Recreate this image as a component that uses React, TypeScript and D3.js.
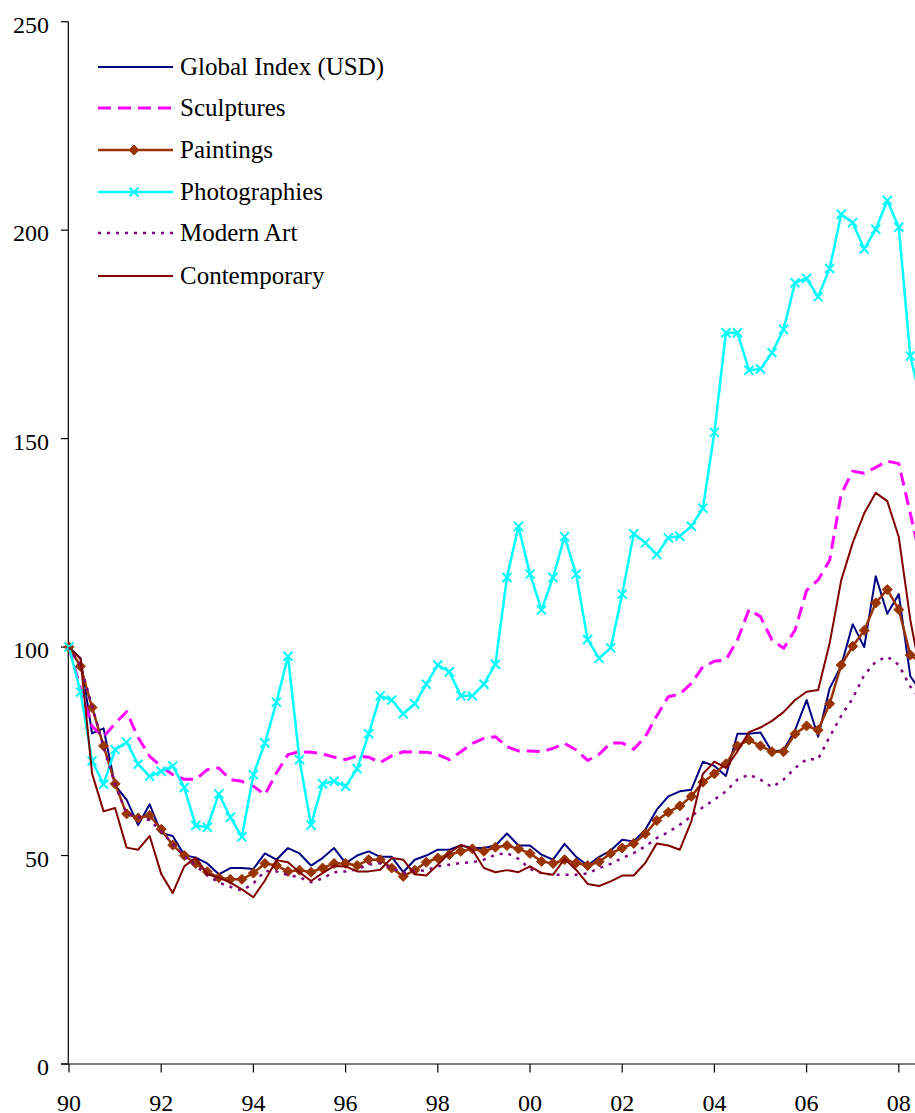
import React from "react";
import * as d3 from "d3";

// Quarterly index values, 1990Q1 = 100 (index 0), last values clipped at the right edge
const globalIndex = [100, 97.3, 79.3, 80.5, 66.8, 63.4, 57.3, 62.3, 55.4, 54.7, 50.1, 49.5, 48.1, 45.5, 47.0, 47.0, 46.8, 50.5, 49.0, 51.8, 50.5, 47.6, 49.4, 51.8, 48.2, 50.0, 51.0, 49.7, 49.7, 46.0, 49.0, 50.0, 51.4, 51.4, 52.4, 51.8, 51.8, 52.4, 55.3, 52.4, 52.4, 50.2, 49.0, 52.8, 49.7, 47.6, 49.7, 51.2, 53.8, 53.4, 56.2, 61.0, 64.2, 65.4, 65.8, 72.5, 71.5, 69.1, 79.2, 79.2, 79.5, 74.9, 75.3, 80.1, 87.3, 78.5, 90.1, 95.5, 105.5, 100.0, 117.0, 108.0, 112.7, 93.0, 89.0];
const sculptures = [100, 90, 81, 78.5, 81.7, 84.5, 78.3, 73.8, 71.4, 69.4, 68.3, 68.3, 70.6, 71.0, 68.2, 67.8, 66.6, 64.6, 69.8, 74.2, 74.9, 74.8, 74.4, 73.6, 73.0, 73.9, 73.6, 72.3, 73.9, 74.9, 74.8, 74.8, 74.2, 73.0, 74.9, 76.9, 78.1, 78.5, 76.1, 75.1, 75.1, 74.9, 75.7, 76.9, 75.3, 72.8, 74.3, 77.0, 77.0, 75.5, 78.5, 83.5, 88.1, 88.7, 91.3, 95.3, 96.6, 96.9, 101.7, 109.0, 107.3, 101.7, 99.7, 104.1, 113.6, 116.1, 120.8, 136.7, 142.2, 141.7, 143.1, 144.6, 144.0, 132.0, 120];
const paintings = [100, 95.4, 85.5, 76.3, 67.2, 60.0, 59.0, 59.6, 56.3, 52.5, 50.0, 48.1, 46.1, 44.7, 44.3, 44.3, 45.8, 48.1, 47.6, 46.2, 46.5, 46.0, 47.0, 48.1, 48.1, 47.6, 49.0, 49.0, 47.0, 45.0, 46.5, 48.4, 49.4, 50.2, 51.0, 51.6, 51.0, 52.0, 52.4, 51.6, 50.5, 48.6, 48.1, 49.0, 48.2, 47.6, 48.5, 50.5, 51.8, 52.9, 55.2, 58.4, 60.4, 61.9, 64.2, 67.6, 69.6, 72.0, 76.3, 77.7, 76.3, 74.9, 74.9, 79.2, 81.1, 80.1, 86.4, 95.7, 100.2, 104.0, 110.6, 113.8, 109.0, 98.1, 96];
const photographies = [100, 89.2, 72.7, 67.1, 75.4, 77.2, 71.9, 69.0, 70.2, 71.5, 66.3, 57.2, 56.8, 64.8, 59.2, 54.5, 69.4, 77.0, 86.8, 97.8, 73.0, 57.3, 67.2, 67.8, 66.6, 70.8, 79.2, 88.3, 87.3, 84.0, 86.4, 91.1, 95.7, 94.1, 88.3, 88.3, 91.1, 95.9, 116.7, 129.0, 117.5, 108.9, 116.7, 126.5, 117.5, 101.8, 97.3, 99.8, 112.7, 127.2, 125.0, 122.2, 126.2, 126.6, 129.0, 133.3, 151.5, 175.4, 175.4, 166.4, 166.7, 170.6, 176.2, 187.4, 188.4, 184.0, 190.8, 203.8, 201.8, 195.5, 200.2, 207.1, 200.7, 169.8, 158];
const modernArt = [100, 95.5, 86, 76, 67, 60, 59.3, 58.5, 55.8, 52.8, 49.8, 47.5, 45.3, 43.5, 42.5, 41.6, 43.3, 46.3, 46.2, 45.3, 44.8, 43.6, 44.5, 46.0, 46.2, 46.7, 47.8, 48.2, 47.0, 45.8, 46.2, 46.5, 47.4, 47.8, 48.2, 48.4, 49.0, 50.2, 50.6, 49.2, 46.8, 45.8, 45.4, 45.4, 45.4, 45.7, 47.0, 48.0, 49.4, 50.6, 52.2, 54.2, 55.6, 57.4, 59.4, 61.6, 63.4, 65.4, 68.2, 69.4, 68.2, 66.4, 68.2, 71.0, 73.1, 73.1, 78.5, 83.5, 87.7, 93.3, 96.5, 97.7, 95.7, 90.5, 87];
const contemporary = [100, 97.2, 69.7, 60.6, 61.4, 51.9, 51.4, 54.7, 45.6, 41.0, 47.4, 49.5, 45.5, 44.7, 43.5, 41.9, 40.0, 44.0, 48.9, 48.4, 46.0, 43.9, 45.8, 47.5, 47.4, 46.2, 46.2, 46.6, 49.4, 49.0, 45.5, 45.2, 47.8, 50.6, 52.6, 51.4, 47.0, 46.0, 46.5, 46.0, 47.4, 45.8, 45.4, 49.2, 46.6, 43.2, 42.7, 43.8, 45.2, 45.2, 48.2, 52.9, 52.4, 51.4, 58.2, 69.6, 72.5, 71.0, 75.0, 79.6, 80.7, 82.3, 84.4, 87.3, 89.3, 89.7, 100.9, 116.0, 125.0, 132.1, 137.0, 135.0, 126.4, 106.5, 92];

const seriesNames = ["Global Index (USD)", "Sculptures", "Paintings", "Photographies", "Modern Art", "Contemporary"];
const yTicks = [0, 50, 100, 150, 200, 250];
const xTickYears = [1990, 1992, 1994, 1996, 1998, 2000, 2002, 2004, 2006, 2008];
const startYear = 1990;

type Style = { color: string; width: number; dash?: string; marker?: "diamond" | "x" };
const styles: Style[] = [
  { color: "#000080", width: 2 },
  { color: "#FF00FF", width: 3, dash: "13,7" },
  { color: "#993300", width: 2.5, marker: "diamond" },
  { color: "#00FFFF", width: 2.5, marker: "x" },
  { color: "#800080", width: 2.5, dash: "3,6" },
  { color: "#800000", width: 2 },
];

const W = 915;
const H = 1113;
const FONT = "'Liberation Serif', 'Times New Roman', serif";

function Marker({ kind, cx, cy, color }: { kind: "diamond" | "x"; cx: number; cy: number; color: string }) {
  if (kind === "diamond") {
    const s = 5;
    return (
      <path
        d={`M${cx},${cy - s}L${cx + s},${cy}L${cx},${cy + s}L${cx - s},${cy}Z`}
        fill={color}
        stroke={color}
        strokeWidth={1}
      />
    );
  }
  const s = 4.5;
  return (
    <path
      d={`M${cx - s},${cy - s}L${cx + s},${cy + s}M${cx - s},${cy + s}L${cx + s},${cy - s}`}
      stroke={color}
      strokeWidth={2}
      fill="none"
    />
  );
}

export default function App() {
  const allSeries = [globalIndex, sculptures, paintings, photographies, modernArt, contemporary];
  const x = d3.scaleLinear().domain([1990, 2008]).range([69, 898.8]);
  const y = d3.scaleLinear().domain([0, 250]).range([1064, 21.7]);
  const t = (i: number) => startYear + i / 4;
  const lineGen = d3
    .line<number>()
    .x((_, i) => x(t(i)))
    .y((d) => y(d));

  const axisX = 68.3;
  const legendRows = [67, 108, 150, 192, 233, 276];

  return (
    <svg
      width={W}
      height={H}
      style={{ position: "absolute", left: 0, top: 0, background: "#fff" }}
      fontFamily={FONT}
    >
      <rect x={0} y={0} width={W} height={H} fill="#fff" />
      {/* axes */}
      <line x1={axisX} x2={axisX} y1={y(250)} y2={y(0)} stroke="#000" strokeWidth={1.2} />
      <line x1={61} x2={W} y1={y(0)} y2={y(0)} stroke="#000" strokeWidth={1.2} />
      {yTicks.map((v) => (
        <g key={"yt" + v}>
          <line x1={61} x2={axisX} y1={y(v)} y2={y(v)} stroke="#000" strokeWidth={1.2} />
          <text x={49} y={y(v) + 11} textAnchor="end" fontSize={24} fill="#000">
            {v}
          </text>
        </g>
      ))}
      {xTickYears.map((yr) => (
        <g key={"xt" + yr}>
          <line x1={x(yr)} x2={x(yr)} y1={y(0)} y2={y(0) + 8.5} stroke="#000" strokeWidth={1.2} />
          <text x={x(yr)} y={1111} textAnchor="middle" fontSize={24} fill="#000">
            {String(yr % 100).padStart(2, "0")}
          </text>
        </g>
      ))}

      {/* series */}
      {allSeries.map((vals, si) => {
        const st = styles[si];
        return (
          <g key={"s" + si}>
            <path
              d={lineGen(vals) || ""}
              fill="none"
              stroke={st.color}
              strokeWidth={st.width}
              strokeDasharray={st.dash}
              strokeLinejoin="round"
            />
            {st.marker &&
              vals.map((v, i) => (
                <Marker key={i} kind={st.marker!} cx={x(t(i))} cy={y(v)} color={st.color} />
              ))}
          </g>
        );
      })}

      {/* legend */}
      {seriesNames.map((name, si) => {
        const st = styles[si];
        const ry = legendRows[si];
        return (
          <g key={"lg" + si}>
            <line
              x1={98}
              x2={173}
              y1={ry}
              y2={ry}
              stroke={st.color}
              strokeWidth={st.width}
              strokeDasharray={st.dash}
            />
            {st.marker && <Marker kind={st.marker} cx={134} cy={ry} color={st.color} />}
            <text x={180} y={ry + 8} fontSize={25} fill="#000">
              {name}
            </text>
          </g>
        );
      })}
    </svg>
  );
}
